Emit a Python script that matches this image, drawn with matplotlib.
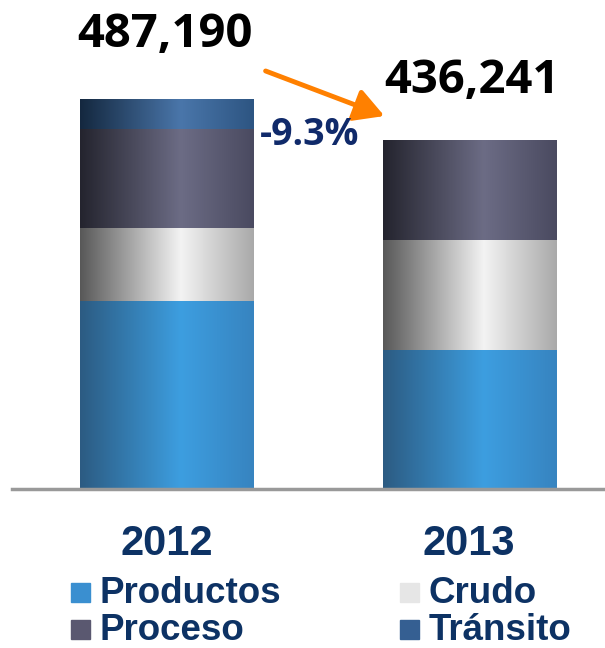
import numpy as np
import matplotlib
matplotlib.use("Agg")
import matplotlib.pyplot as plt
from matplotlib.colors import LinearSegmentedColormap
from matplotlib.patches import Rectangle, FancyArrowPatch

# data
years = ["2012", "2013"]
totals = [487190, 436241]
productos = [234800, 173800]
crudo = [91200, 136800]
proceso = [123700, 125641]
transito = [37490, 0]
change_label = "-9.3%"

series = [
    ("Productos", productos, ["#2c5b82", "#3d9ee0", "#3784c0"], "#3a8fd0"),
    ("Crudo", crudo, ["#585858", "#f3f3f3", "#a9a9a9"], "#e6e6e6"),
    ("Proceso", proceso, ["#24242e", "#6c6c85", "#4a4a60"], "#5a5870"),
    ("Tránsito", transito, ["#14283f", "#4a76aa", "#2d5582"], "#355f92"),
]

W, H = 605, 648
fig = plt.figure(figsize=(W / 100, H / 100), dpi=100)
ax = fig.add_axes([12 / W, (H - 489) / H, 1 - 12 / W, 489 / H])

x = np.arange(len(years))
width = 0.571
grad = np.linspace(0, 1, 256).reshape(1, -1)
bottom = np.zeros(len(years))
for name, vals, stops, _ in series:
    cmap = LinearSegmentedColormap.from_list(name, [(0, stops[0]), (0.58, stops[1]), (1, stops[2])])
    bars = ax.bar(x, vals, width, bottom=bottom, color="none", edgecolor="none")
    for b in bars:
        if b.get_height() <= 0:
            continue
        bx, by = b.get_x(), b.get_y()
        im = ax.imshow(grad, cmap=cmap, aspect="auto", interpolation="bicubic",
                       extent=[bx, bx + b.get_width(), by, by + b.get_height()], zorder=2)
        im.set_clip_path(b)
    bottom += np.array(vals)

ax.set_xlim(-0.51, 1.447)
ax.set_ylim(0, 489 * 1249.2)
for s in ["top", "right", "left"]:
    ax.spines[s].set_visible(False)
ax.spines["bottom"].set_color("#999999")
ax.spines["bottom"].set_linewidth(2.5)
ax.set_xticks([])
ax.set_yticks([])
ax.patch.set_alpha(0)

navy = "#0d3264"
# total labels
for (px, py), t in zip([(165, 47), (472, 93)], totals):
    fig.text(px / W, 1 - py / H, f"{t:,}", ha="center", va="baseline",
             fontsize=34, fontweight="bold", family="Open Sans", color="black")
fig.text(310 / W, 1 - 145 / H, change_label, ha="center", va="baseline",
         fontsize=27, fontweight="bold", family="Open Sans", color="#102a6a")

# arrow
fig.add_artist(FancyArrowPatch(
    (263 / W, 1 - 70 / H), (387 / W, 1 - 117 / H), transform=fig.transFigure,
    arrowstyle="-|>,head_length=0.9,head_width=0.5", mutation_scale=20,
    color="#ff8000", lw=3.5))

# year labels
for xi, yr in zip([166.5, 468.5], years):
    fig.text(xi / W, 1 - 555 / H, yr, ha="center", va="baseline",
             fontsize=30, fontweight="bold", family="Liberation Sans", color=navy)

# legend
leg_pos = {"Productos": (71, 592), "Crudo": (400, 592), "Proceso": (71, 629), "Tránsito": (400, 629)}
for name, _, _, c in series:
    px, py = leg_pos[name]
    fig.add_artist(Rectangle((px / W, 1 - (py + 9.5) / H), 19 / W, 19 / H,
                             transform=fig.transFigure, color=c))
    fig.text((px + 29) / W, 1 - (py + 11) / H, name, ha="left", va="baseline",
             fontsize=26.5, fontweight="bold", family="Liberation Sans", color=navy)

fig.savefig("out.png", dpi=100)
